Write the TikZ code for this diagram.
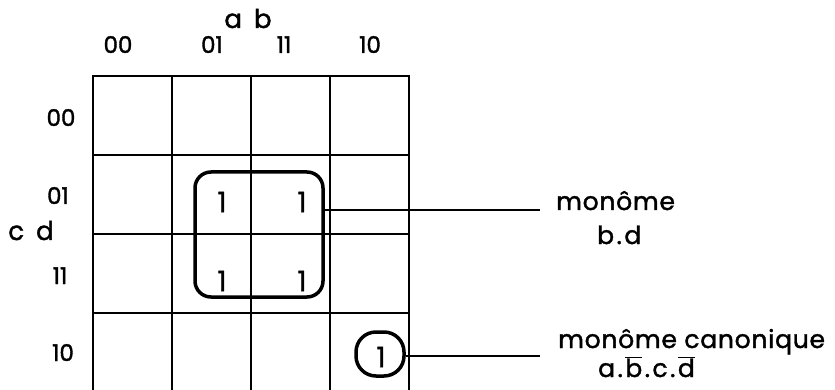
\documentclass[tikz,border=0pt]{standalone}
\usepackage{fontspec}
\setmainfont{Poppins}[FakeBold=1.5]
\newfontfamily\spacedfont{Poppins}[FakeBold=1.5,LetterSpace=3]
\newcommand{\gdot}{\hspace{2.5pt}.\hspace{2.5pt}}
\begin{document}
\begin{tikzpicture}[x=1pt,y=-1pt,
  gridline/.style={line width=2.2pt},
  grp/.style={draw,line width=3.5pt,rounded corners=16pt,inner sep=0pt},
  leader/.style={line width=1.3pt},
  hdr/.style={font=\fontsize{23}{23}\selectfont,anchor=base,inner sep=0pt},
  lbl/.style={font=\spacedfont\fontsize{25}{25}\selectfont,anchor=base west,inner sep=0pt},
  one/.style={font=\fontsize{28}{28}\selectfont,inner sep=0pt}]
\useasboundingbox (0,0) rectangle (835,390);
% grid
\foreach \x in {93,172,251,330,409} \draw[gridline] (\x,76) -- (\x,395);
\foreach \y in {76,155,234,313} \draw[gridline] (92,\y) -- (410,\y);
% header labels
\node[hdr,font=\fontsize{26}{26}\selectfont] (ab) at (248,28) {a\hspace{12pt}b};
\node[hdr] (c00) at (118,53) {00};
\node[hdr] (c01) at (212,53) {01};
\node[hdr] (c11) at (284,53) {11};
\node[hdr] (c10) at (370,53) {10};
\node[hdr] (r00) at (61,126) {00};
\node[hdr] (r01) at (58,204) {01};
\node[hdr] (r11) at (60,284) {11};
\node[hdr] (r10) at (63,361) {10};
\node[hdr,font=\fontsize{26}{26}\selectfont] (cd) at (31,240) {c\hspace{12pt}d};
% ones
\node[one] (o1) at (222,202) {1};
\node[one] (o2) at (302,202) {1};
\node[one] (o3) at (222,281) {1};
\node[one] (o4) at (302,281) {1};
\node[one] (o5) at (381,357) {1};
% groups
\node[grp,minimum width=128pt,minimum height=125pt] (bd) at (259,234.5) {};
\node[grp,minimum width=48pt,minimum height=44pt,rounded corners=20pt] (abcd) at (380,354) {};
% leaders
\coordinate (l1) at (540,210);
\coordinate (l2) at (540,356);
\draw[leader] (bd.east |- l1) -- (l1);
\draw[leader] (abcd.east |- l2) -- (l2);
% labels
\node[lbl] (m1) at (556,210) {monôme};
\node[lbl] (m1b) at (597,244) {b\gdot d};
\node[lbl] (m2) at (558,348) {monôme canonique};
\node[lbl] (m2b) at (598,377) {a\gdot$\overline{\mbox{b}}$\gdot c\gdot$\overline{\mbox{d}}$};
\end{tikzpicture}
\end{document}
